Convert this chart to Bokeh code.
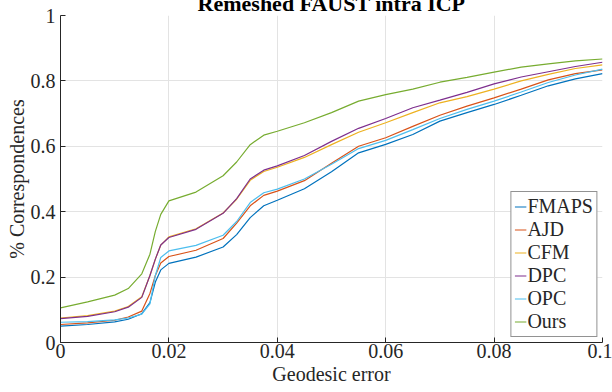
from bokeh.plotting import figure
from bokeh.models import (Legend, LegendItem, FixedTicker, NumeralTickFormatter, Range1d,
                          Title, InlineStyleSheet)
from bokeh.embed import file_html
from bokeh.resources import INLINE

# ---------------- data ----------------
geodesic_error = [0.0, 0.005, 0.01, 0.0125, 0.015, 0.0165, 0.0175, 0.0185, 0.02,
                  0.025, 0.03, 0.0325, 0.035, 0.0375, 0.04, 0.045, 0.05, 0.055,
                  0.06, 0.065, 0.07, 0.075, 0.08, 0.085, 0.09, 0.095, 0.1]

fmaps = [0.050, 0.055, 0.063, 0.071, 0.088, 0.122, 0.185, 0.222, 0.242,
         0.261, 0.292, 0.330, 0.382, 0.418, 0.435, 0.470, 0.522, 0.580,
         0.606, 0.636, 0.677, 0.703, 0.728, 0.756, 0.785, 0.806, 0.822]
ajd = [0.055, 0.060, 0.068, 0.078, 0.096, 0.150, 0.205, 0.243, 0.263,
       0.282, 0.318, 0.365, 0.418, 0.450, 0.463, 0.495, 0.548, 0.600,
       0.626, 0.661, 0.695, 0.723, 0.748, 0.775, 0.803, 0.822, 0.834]
cfm = [0.075, 0.082, 0.096, 0.110, 0.140, 0.205, 0.255, 0.298, 0.323,
       0.348, 0.396, 0.438, 0.496, 0.523, 0.536, 0.566, 0.605, 0.643,
       0.672, 0.703, 0.733, 0.752, 0.775, 0.800, 0.820, 0.838, 0.849]
dpc = [0.073, 0.080, 0.094, 0.108, 0.138, 0.205, 0.255, 0.298, 0.321,
       0.346, 0.395, 0.440, 0.500, 0.527, 0.540, 0.572, 0.615, 0.655,
       0.685, 0.718, 0.741, 0.765, 0.791, 0.812, 0.828, 0.844, 0.857]
opc = [0.062, 0.064, 0.069, 0.075, 0.087, 0.118, 0.205, 0.260, 0.280,
       0.297, 0.328, 0.370, 0.428, 0.458, 0.469, 0.500, 0.545, 0.593,
       0.618, 0.651, 0.685, 0.713, 0.738, 0.766, 0.795, 0.818, 0.836]
ours = [0.106, 0.124, 0.145, 0.165, 0.210, 0.270, 0.340, 0.392, 0.433,
        0.460, 0.510, 0.552, 0.605, 0.634, 0.646, 0.672, 0.703, 0.738,
        0.758, 0.775, 0.796, 0.811, 0.827, 0.842, 0.852, 0.861, 0.867]

series_names = ["FMAPS", "AJD", "CFM", "DPC", "OPC", "Ours"]
series_values = [fmaps, ajd, cfm, dpc, opc, ours]
series_colors = ["#0072BD", "#D95319", "#EDB120", "#7E2F8E", "#4DBEEE", "#77AC30"]

x_ticks = [0, 0.02, 0.04, 0.06, 0.08, 0.1]
y_ticks = [0, 0.2, 0.4, 0.6, 0.8, 1.0]
x_label = "Geodesic error"
y_label = "% Correspondences"
chart_title = "Remeshed FAUST intra ICP"

FONT = "Liberation Serif"
AX = "#262626"
SHIFT = 12  # the title sits partly above the visible window, as in the reference

css = InlineStyleSheet(css="text { font-family: 'Liberation Serif', serif !important; }")

p = figure(width=612, height=392 + SHIFT, output_backend="svg", toolbar_location=None,
           x_range=Range1d(0, 0.1), y_range=Range1d(0, 1),
           min_border_left=60, min_border_right=10, min_border_top=0,
           min_border_bottom=50, title=chart_title)
p.styles = {"margin-top": f"-{SHIFT}px"}
p.stylesheets = [css]
p.outline_line_color = None
p.background_fill_color = "white"
p.border_fill_color = "white"

p.title.align = "center"
p.title.text_font = FONT
p.title.text_font_size = "22px"
p.title.text_font_style = "bold"
p.title.text_color = "black"
p.title.standoff = 0

for ax, ticks, fmt in ((p.xaxis[0], x_ticks, "0.[00]"), (p.yaxis[0], y_ticks, "0.[0]")):
    ax.ticker = FixedTicker(ticks=ticks)
    ax.formatter = NumeralTickFormatter(format=fmt)
    ax.major_tick_in = 5
    ax.major_tick_out = 0
    ax.minor_tick_in = 0
    ax.minor_tick_out = 0
    ax.axis_line_color = AX
    ax.major_tick_line_color = AX
    ax.major_label_text_font = FONT
    ax.major_label_text_font_size = "20px"
    ax.major_label_text_color = AX

p.xaxis[0].major_label_standoff = 1
p.yaxis[0].major_label_standoff = 5

# axis titles as Title annotations (they render in the serif face)
for text, side in ((x_label, "below"), (y_label, "left")):
    t = Title(text=text, align="center", text_font=FONT, text_font_size="20px",
              text_font_style="normal", text_color=AX, standoff=0)
    p.add_layout(t, side)

p.xgrid.ticker = FixedTicker(ticks=x_ticks)
p.ygrid.ticker = FixedTicker(ticks=y_ticks)
p.grid.grid_line_color = "#e3e3e3"
p.grid.grid_line_width = 1

renderers = []
for name, vals, col in zip(series_names, series_values, series_colors):
    r = p.line(geodesic_error, vals, line_color=col, line_width=1.2)
    renderers.append((name, r))

legend = Legend(items=[LegendItem(label=n, renderers=[r]) for n, r in renderers],
                location="bottom_right")
legend.label_text_font = FONT
legend.label_text_font_size = "20px"
legend.label_text_color = AX
legend.glyph_width = 12
legend.glyph_height = 23
legend.label_height = 23
legend.label_standoff = 1
legend.spacing = 0
legend.padding = 3
legend.margin = 5
legend.border_line_color = AX
legend.border_line_width = 1
legend.background_fill_color = "white"
legend.background_fill_alpha = 1
p.add_layout(legend)

open("out.html", "w").write(file_html(p, INLINE))
